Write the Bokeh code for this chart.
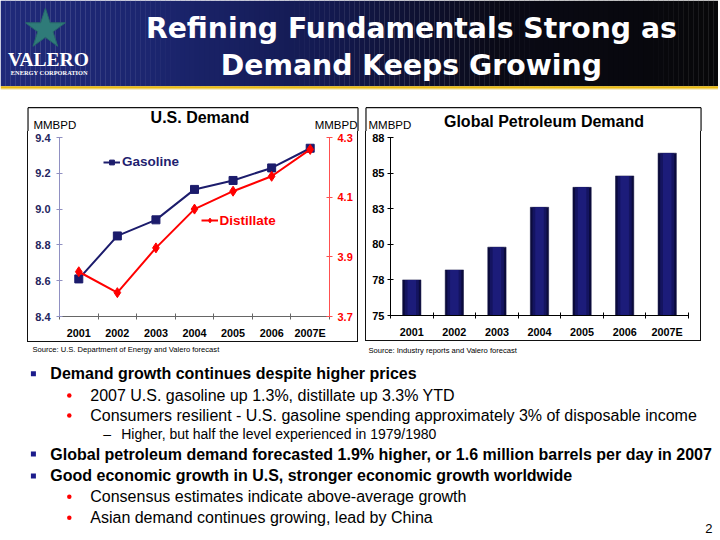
import numpy as np
from bokeh.plotting import figure
from bokeh.models import (Range1d, LinearAxis, FixedTicker, PrintfTickFormatter,
                          Legend, LegendItem, ColumnDataSource)
from bokeh.layouts import column, row
from bokeh.core.properties import value
from bokeh.embed import file_html
from bokeh.resources import INLINE

# ---------------- data ----------------
YEARS = ["2001", "2002", "2003", "2004", "2005", "2006", "2007E"]
GASOLINE = [8.61, 8.85, 8.94, 9.11, 9.16, 9.23, 9.34]
DISTILLATE = [3.85, 3.78, 3.93, 4.06, 4.12, 4.17, 4.26]
GLOBAL = [77.5, 78.2, 79.8, 82.6, 84.0, 84.8, 86.4]
GAS_TICKS = [8.4, 8.6, 8.8, 9.0, 9.2, 9.4]
DIST_TICKS = [3.7, 3.9, 4.1, 4.3]
GLOBAL_TICKS = [75, 77.5, 80, 82.5, 85, 87.5]
GLOBAL_TICK_LABELS = ["75", "78", "80", "83", "85", "88"]

TITLE_LINES = ["Refining Fundamentals Strong as", "Demand Keeps Growing"]
BULLETS = [
    (1, "Demand growth continues despite higher prices"),
    (2, "2007 U.S. gasoline up 1.3%, distillate up 3.3% YTD"),
    (2, "Consumers resilient - U.S. gasoline spending approximately 3% of disposable income"),
    (3, "Higher, but half the level experienced in 1979/1980"),
    (1, "Global petroleum demand forecasted 1.9% higher, or 1.6 million barrels per day in 2007"),
    (1, "Good economic growth in U.S, stronger economic growth worldwide"),
    (2, "Consensus estimates indicate above-average growth"),
    (2, "Asian demand continues growing, lead by China"),
]

# ---------------- geometry (slide 720x540 -> 718x536) ----------------
W = 718
SX = W / 720
SY = 536 / 540
FONT = "Liberation Sans"
NAVY = "#1c1c6c"
RED = "#ff0000"
X = [i + 0.5 for i in range(len(YEARS))]
BOUNDS = list(range(len(YEARS) + 1))
H_HDR, H_TTL, H_ROW, H_BUL = 94, 37, 212, 193
Y0_TTL = H_HDR
Y0_ROW = H_HDR + H_TTL
Y0_BUL = Y0_ROW + H_ROW
BOX = "#111111"


def canvas(h, y_top_px):
    f = figure(width=W, height=h, x_range=Range1d(0, 720),
               y_range=Range1d((y_top_px + h) / SY, y_top_px / SY),
               output_backend="svg", toolbar_location=None, min_border=0,
               x_axis_location=None, y_axis_location=None)
    f.grid.visible = False
    f.outline_line_color = None
    return f


# ---------------- header ----------------
hdr = canvas(H_HDR, 0)
edges = np.linspace(0, 720, 145)
stops_x = [0, 150, 330, 500, 720]
stops_c = np.array([[32, 42, 122], [28, 38, 112], [20, 26, 80], [10, 10, 22], [8, 8, 10]])
mid = (edges[:-1] + edges[1:]) / 2
cols = []
for m in mid:
    r, g, b = (np.interp(m, stops_x, stops_c[:, k]) for k in range(3))
    cols.append("#%02x%02x%02x" % (int(r), int(g), int(b)))
hdr.quad(left=edges[:-1], right=edges[1:] + 0.3, top=0, bottom=86.5, color=cols, line_color=None)
hdr.quad(left=0, right=720, top=86.5, bottom=89, color="#e9b90e", line_color=None)
hdr.quad(left=0, right=720, top=89, bottom=90, color="#f5e7b0", line_color=None)
hdr.scatter(x=[45], y=[29], marker="star", size=42, fill_color="#2f7b79", line_color="#27696a")
hdr.text(x=[48], y=[59], text=["VALERO"], text_color="white", text_font=value("Liberation Serif"),
         text_font_style="bold", text_font_size="19.5px", text_align="center", text_baseline="middle")
hdr.text(x=[49], y=[73], text=["ENERGY CORPORATION"], text_color="white",
         text_font=value("Liberation Serif"), text_font_style="bold", text_font_size="6.4px",
         text_align="center", text_baseline="middle")
hdr.text(x=[412, 412], y=[28, 65], text=TITLE_LINES, text_color="white",
         text_font=value("DejaVu Sans"), text_font_style="bold", text_font_size="28.3px",
         text_align="center", text_baseline="middle")

# ---------------- chart titles strip (top of both chart boxes) ----------------
ttl = canvas(H_TTL, Y0_TTL)
ttl.segment(x0=[27.6, 27.6, 358.5, 366.5, 366.5, 702.5],
            y0=[108, 108, 108, 108, 108, 108],
            x1=[358.5, 27.6, 358.5, 702.5, 366.5, 702.5],
            y1=[108, 140, 140, 108, 140, 140], line_color=BOX, line_width=1.2)
ttl.text(x=[200, 545], y=[118, 122], text=["U.S. Demand", "Global Petroleum Demand"],
         text_font=value(FONT), text_font_style="bold", text_font_size="16px",
         text_color="#000000", text_align="center", text_baseline="middle")
ttl.text(x=[33, 315, 369], y=[125, 125, 125], text=["MMBPD", "MMBPD", "MMBPD"],
         text_font=value(FONT), text_font_size="11.5px", text_color="#000000",
         text_align="left", text_baseline="middle")

SHADOW = {"box-shadow": "-1px 0 0 0 %s, 1px 0 0 0 %s, 0 1px 0 0 %s, -1px 1px 0 0 %s, 1px 1px 0 0 %s"
          % ((BOX,) * 5)}


def style_xaxis(ax, line_col):
    ax.ticker = FixedTicker(ticks=X, minor_ticks=BOUNDS)
    ax.major_label_overrides = {x: y for x, y in zip(X, YEARS)}
    ax.major_tick_line_color = None
    ax.major_tick_out = 3
    ax.major_tick_in = 0
    ax.minor_tick_in = 3
    ax.minor_tick_out = 3
    ax.minor_tick_line_color = line_col
    ax.axis_line_color = line_col
    ax.major_label_standoff = 7
    ax.major_label_text_font = FONT
    ax.major_label_text_font_style = "bold"
    ax.major_label_text_font_size = "10.8px"
    ax.major_label_text_color = "#000000"


def style_yaxis(ax, line_col, lab_col, standoff):
    ax.minor_tick_line_color = None
    ax.major_tick_in = 3
    ax.major_tick_out = 3
    ax.axis_line_color = line_col
    ax.major_tick_line_color = line_col
    ax.major_label_standoff = standoff
    ax.major_label_text_font = FONT
    ax.major_label_text_font_style = "bold"
    ax.major_label_text_font_size = "11px"
    ax.major_label_text_color = lab_col


# ---------------- left chart: U.S. Demand ----------------
L_W, L_H = 329, 210
L_FL, L_FR, L_FT, L_FB = 31, 28, 5, 25
left = figure(width=L_W, height=L_H, x_range=Range1d(0, len(YEARS)),
              y_range=Range1d(GAS_TICKS[0], GAS_TICKS[-1]),
              output_backend="svg", toolbar_location=None,
              min_border_left=L_FL, min_border_right=L_FR, min_border_top=L_FT,
              min_border_bottom=L_FB, margin=(0, 0, H_ROW - L_H, 28), styles=SHADOW)
left.grid.visible = False
left.outline_line_color = None
left.extra_y_ranges = {"dist": Range1d(DIST_TICKS[0], DIST_TICKS[-1])}

style_xaxis(left.xaxis[0], "#666666")
ya = left.yaxis[0]
ya.ticker = FixedTicker(ticks=GAS_TICKS)
ya.formatter = PrintfTickFormatter(format="%.1f")
style_yaxis(ya, "#9090c2", "#25255e", 6)

ra = LinearAxis(y_range_name="dist", ticker=FixedTicker(ticks=DIST_TICKS),
                formatter=PrintfTickFormatter(format="%.1f"))
style_yaxis(ra, "#ff5050", RED, 5)
left.add_layout(ra, "right")

src_l = ColumnDataSource(dict(x=X, gas=GASOLINE, dist=DISTILLATE))
gl = left.line("x", "gas", source=src_l, line_color=NAVY, line_width=2)
gs = left.scatter("x", "gas", source=src_l, marker="square", size=8, fill_color=NAVY, line_color=NAVY)
dl = left.line("x", "dist", source=src_l, line_color=RED, line_width=2, y_range_name="dist")
ds = left.scatter("x", "dist", source=src_l, marker="diamond", size=10, fill_color=RED,
                  line_color=RED, y_range_name="dist")

for items, lab, col, (rx, ry) in [([gl, gs], "Gasoline", "#1f1f70", (103, 164)),
                                   ([dl, ds], "Distillate", RED, (201, 223))]:
    sx = (rx - 59) * SX
    sy = (318 - ry) * SY
    leg = Legend(items=[LegendItem(label=lab, renderers=items)], location=(sx, sy - 6),
                 padding=0, margin=0, spacing=0, glyph_width=17, glyph_height=12,
                 label_height=12, label_standoff=2, background_fill_alpha=0,
                 border_line_color=None, label_text_font=FONT, label_text_font_style="bold",
                 label_text_font_size="13.5px", label_text_color=col)
    left.add_layout(leg, "center")

# ---------------- right chart: Global Petroleum Demand ----------------
R_W, R_H = 334, 209
R_FL, R_FR, R_FT, R_FB = 24, 12, 6, 23
right = figure(width=R_W, height=R_H, x_range=Range1d(0, len(YEARS)),
               y_range=Range1d(GLOBAL_TICKS[0], GLOBAL_TICKS[-1]),
               output_backend="svg", toolbar_location=None,
               min_border_left=R_FL, min_border_right=R_FR, min_border_top=R_FT,
               min_border_bottom=R_FB, margin=(0, 0, H_ROW - R_H, 9), styles=SHADOW)
right.grid.visible = False
right.outline_line_color = None
style_xaxis(right.xaxis[0], "#000000")
yb = right.yaxis[0]
yb.ticker = FixedTicker(ticks=GLOBAL_TICKS)
yb.major_label_overrides = {t: s for t, s in zip(GLOBAL_TICKS, GLOBAL_TICK_LABELS)}
style_yaxis(yb, "#000000", "#000000", 3)

src_r = ColumnDataSource(dict(x=X, top=GLOBAL))
base = GLOBAL_TICKS[0]
right.vbar(x="x", top="top", bottom=base, width=0.43, source=src_r,
           fill_color="#0b0b3c", line_color="#0b0b3c", line_width=0.5)
right.vbar(x="x", top="top", bottom=base, width=0.33, source=src_r,
           fill_color="#141460", line_color=None)
right.vbar(x="x", top="top", bottom=base, width=0.2, source=src_r,
           fill_color="#1c1c7a", line_color=None)

# ---------------- bullets ----------------
bul = canvas(H_BUL, Y0_BUL)
bul.text(x=[32, 369], y=[352, 353],
         text=["Source: U.S. Department of Energy and Valero forecast",
               "Source:  Industry reports and Valero forecast"],
         text_font=value(FONT), text_font_size="7.6px", text_color="#000000",
         text_align="left", text_baseline="middle")

ys = [376, 398, 418, 437, 457, 479, 500, 521]
for (lvl, txt), y in zip(BULLETS, ys):
    if lvl == 1:
        bul.scatter(x=[33], y=[y], marker="square", size=5, fill_color="#1c1c8c", line_color=None)
        bul.text(x=[50], y=[y], text=[txt], text_font=value(FONT), text_font_style="bold",
                 text_font_size="16px", text_color="#000000", text_baseline="middle")
    elif lvl == 2:
        bul.scatter(x=[69], y=[y], marker="circle", size=4.5, fill_color=RED, line_color=None)
        bul.text(x=[90], y=[y], text=[txt], text_font=value(FONT),
                 text_font_size="16px", text_color="#000000", text_baseline="middle")
    else:
        bul.text(x=[103], y=[y], text=["\u2013"], text_font=value(FONT),
                 text_font_size="14px", text_color="#000000", text_baseline="middle")
        bul.text(x=[121], y=[y], text=[txt], text_font=value(FONT),
                 text_font_size="14px", text_color="#000000", text_baseline="middle")
bul.text(x=[714], y=[532], text=["2"], text_font=value(FONT), text_font_size="13px",
         text_color="#000000", text_align="right", text_baseline="middle")

layout = column(hdr, ttl, row(left, right), bul)
open("out.html", "w").write(file_html(layout, INLINE))
